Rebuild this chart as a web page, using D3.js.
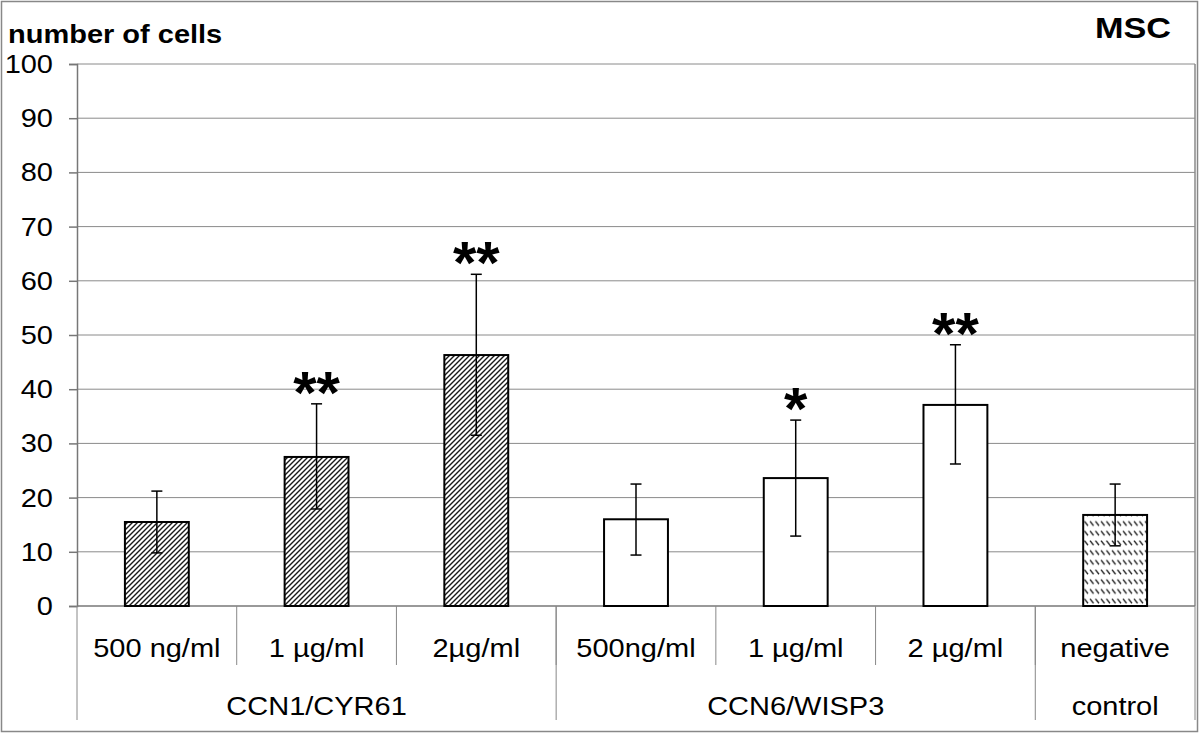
<!DOCTYPE html>
<html><head><meta charset="utf-8">
<script src="https://cdn.jsdelivr.net/npm/d3@7"></script>
<style>body{margin:0;background:#fff}svg{display:block}text{font-family:Arial,"Liberation Sans",sans-serif}</style>
</head><body>
<svg id="c" width="1200" height="734"></svg>
<script>
const categories = ["500 ng/ml","1 µg/ml","2µg/ml","500ng/ml","1 µg/ml","2 µg/ml","negative"];
const values = [15.5, 27.5, 46.3, 16.0, 23.6, 37.1, 16.8];
const errLow = [9.8, 17.9, 31.5, 9.4, 12.9, 26.2, 11.1];
const errHigh = [21.2, 37.3, 61.2, 22.5, 34.3, 48.2, 22.5];
const stars = ["", "**", "**", "", "*", "**", ""];
const fills = ["hatch", "hatch", "hatch", "white", "white", "white", "dash"];
const groups = ["CCN1/CYR61", "CCN6/WISP3", "control"];
const groupSpan = [[0,2],[3,5],[6,6]];
const yTicks = [0,10,20,30,40,50,60,70,80,90,100];

const svg = d3.select("#c");
const L = 77, R = 1195, T = 64, B = 606;
const x = d3.scaleBand().domain(d3.range(categories.length)).range([L, R]).paddingInner(0.6).paddingOuter(0.3);
const xs = d3.scaleBand().domain(d3.range(categories.length)).range([L, R]);
const y = d3.scaleLinear().domain([0,100]).range([B, T]);
const SX = 1.16;

const defs = svg.append("defs");
const p1 = defs.append("pattern").attr("id","hatch").attr("patternUnits","userSpaceOnUse").attr("width",5).attr("height",5);
p1.append("rect").attr("width",5).attr("height",5).attr("fill","#fff");
p1.append("path").attr("d","M-1,1 L1,-1 M0,5 L5,0 M4,6 L6,4").attr("stroke","#1a1a1a").attr("stroke-width",1.4);
const p2 = defs.append("pattern").attr("id","dash").attr("patternUnits","userSpaceOnUse").attr("width",5.5).attr("height",9.7).attr("y",B);
p2.append("rect").attr("width",5.5).attr("height",9.7).attr("fill","#fff");
p2.append("path").attr("d","M1,2.5 L4.5,7").attr("stroke","#1a1a1a").attr("stroke-width",1.3);

// outer border
svg.append("rect").attr("x",1.5).attr("y",1.5).attr("width",1196).attr("height",730).attr("fill","none").attr("stroke","#888").attr("stroke-width",1.5);

// gridlines
svg.append("g").selectAll("line").data(yTicks.filter(d=>d>0)).join("line")
  .attr("x1",L).attr("x2",R).attr("y1",d=>y(d)).attr("y2",d=>y(d))
  .attr("stroke","#8a8a8a").attr("stroke-width",1);
// plot right border
svg.append("line").attr("x1",R).attr("x2",R).attr("y1",T).attr("y2",B).attr("stroke","#8a8a8a").attr("stroke-width",1.5);

// y axis
const yAxis = svg.append("g").attr("transform",`translate(${L},0)`)
  .call(d3.axisLeft(y).tickValues(yTicks).tickSize(8).tickFormat(""));
yAxis.select(".domain").attr("stroke","#777").attr("stroke-width",1.5);
yAxis.selectAll(".tick line").attr("stroke","#777").attr("stroke-width",1.5);
svg.append("g").selectAll("text").data(yTicks).join("text")
  .attr("transform",d=>`translate(53,${y(d)+9}) scale(${SX},1)`)
  .attr("text-anchor","end").attr("font-size",25).attr("fill","#000").text(d=>d);

// x axis line
svg.append("line").attr("x1",L).attr("x2",R).attr("y1",B).attr("y2",B).attr("stroke","#777").attr("stroke-width",1.5);
// category separators
svg.append("g").selectAll("line").data(d3.range(1,categories.length)).join("line")
  .attr("x1",i=>xs(i)).attr("x2",i=>xs(i)).attr("y1",B).attr("y2",665)
  .attr("stroke","#888").attr("stroke-width",1);
// group separators
const gEdges = [L].concat(groupSpan.map(s=>xs(s[1])+xs.bandwidth()));
svg.append("g").selectAll("line").data(gEdges).join("line")
  .attr("x1",d=>d).attr("x2",d=>d).attr("y1",B).attr("y2",720)
  .attr("stroke","#888").attr("stroke-width",1);
// category labels
svg.append("g").selectAll("text").data(categories).join("text")
  .attr("transform",(d,i)=>`translate(${xs(i)+xs.bandwidth()/2},657) scale(${SX},1)`)
  .attr("text-anchor","middle").attr("font-size",25).text(d=>d);
// group labels
svg.append("g").selectAll("text").data(groups).join("text")
  .attr("transform",(d,i)=>`translate(${(xs(groupSpan[i][0])+xs(groupSpan[i][1])+xs.bandwidth())/2},715) scale(${SX},1)`)
  .attr("text-anchor","middle").attr("font-size",25).text(d=>d);

// bars
svg.append("g").selectAll("rect").data(values).join("rect")
  .attr("x",(d,i)=>x(i)).attr("width",x.bandwidth())
  .attr("y",d=>y(d)).attr("height",d=>B-y(d))
  .attr("fill",(d,i)=>fills[i]==="white"?"#fff":`url(#${fills[i]})`)
  .attr("stroke","#000").attr("stroke-width",2);

// error bars
const eb = svg.append("g").attr("stroke","#000").attr("stroke-width",1.5);
values.forEach((v,i)=>{
  const cx = x(i)+x.bandwidth()/2;
  eb.append("line").attr("x1",cx).attr("x2",cx).attr("y1",y(errLow[i])).attr("y2",y(errHigh[i]));
  eb.append("line").attr("x1",cx-5.5).attr("x2",cx+5.5).attr("y1",y(errLow[i])).attr("y2",y(errLow[i]));
  eb.append("line").attr("x1",cx-5.5).attr("x2",cx+5.5).attr("y1",y(errHigh[i])).attr("y2",y(errHigh[i]));
});

// significance stars
svg.append("g").selectAll("text").data(stars).join("text")
  .attr("x",(d,i)=>x(i)+x.bandwidth()/2).attr("y",(d,i)=>y(errHigh[i])+9)
  .attr("text-anchor","middle").attr("font-size",60).attr("font-weight","bold").text(d=>d);

// titles
svg.append("text").attr("transform",`translate(8,43) scale(${SX},1)`).attr("font-size",25).attr("font-weight","bold").text("number of cells");
svg.append("text").attr("transform",`translate(1171,38) scale(1.18,1)`).attr("text-anchor","end").attr("font-size",29).attr("font-weight","bold").text("MSC");
</script>
</body></html>
